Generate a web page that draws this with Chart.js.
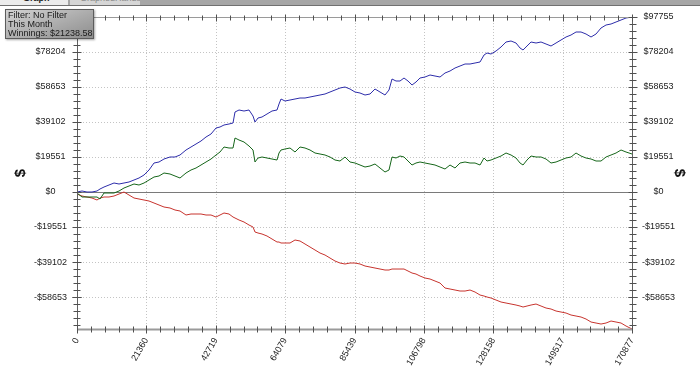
<!DOCTYPE html>
<html>
<head>
<meta charset="utf-8">
<script src="https://cdn.jsdelivr.net/npm/chart.js@4.4.0/dist/chart.umd.min.js"></script>
<style>
  html, body { margin: 0; padding: 0; background: #fff; }
  #wrap { position: relative; width: 700px; height: 374px; overflow: hidden; }
  #tabs { position: absolute; left: 0; top: 0; width: 700px; height: 5px; background: #a6a6a6;
          border-bottom: 1px solid #707070; overflow: hidden; z-index: 3; }
  .tab { position: absolute; top: 0; height: 5px; overflow: hidden; }
  .tab span { position: absolute; top: -7px; font: 9px 'Liberation Sans', sans-serif; line-height: 11px; }
  #info { position: absolute; left: 5px; top: 9px; width: 85px; height: 27px; padding: 1px 0 0 2px;
          background: linear-gradient(160deg, #d2d2d2 0%, #a8a8a8 60%, #8e8e8e 100%);
          border: 1px solid #5c5c5c; box-shadow: 1px 1px 2px rgba(0,0,0,0.35);
          font: 9px 'Liberation Sans', sans-serif; line-height: 9px; color: #1a1a1a; z-index: 2; }
</style>
</head>
<body>
<div id="wrap">
  <div id="tabs">
    <div class="tab" style="left:0;width:68px;background:#ececec;"><span style="left:23px;font-weight:bold;color:#222;">Graph</span></div>
    <div class="tab" style="left:70px;width:70px;background:#d6d6d6;"><span style="left:10px;color:#8a8a8a;">GraphedHands</span></div>
  </div>
  <div id="info">Filter: No Filter<br>This Month<br>Winnings: $21238.58</div>
  <canvas id="chartGraph" width="700" height="374"></canvas>
</div>
<script>
// hands played (x) and cumulative winnings in $ (y)
const hands = [
  0, 1540, 3079, 4619, 6158,
  7082, 8313, 9853, 11392, 12932,
  14471, 16011, 17550, 19090, 20629,
  22169, 23708, 25248, 26787, 28635,
  30174, 31714, 33561, 35101, 36640,
  38180, 39719, 41259, 42798, 44030,
  45261, 46801, 48032, 48648, 49880,
  51419, 52959, 54190, 54806, 55730,
  56962, 58501, 60041, 61580, 62196,
  62812, 64043, 65583, 67122, 68662,
  70201, 71741, 73280, 74820, 76359,
  77899, 79438, 80978, 82517, 84057,
  85596, 87136, 88675, 90215, 91754,
  93294, 94833, 96065, 96989, 98220,
  99452, 100683, 101915, 103147, 104378,
  105610, 107149, 108689, 110228, 111768,
  113307, 114847, 116386, 117926, 119465,
  121005, 122544, 124084, 125315, 126239,
  127471, 129010, 130550, 132089, 133629,
  135168, 136400, 137323, 138555, 139787,
  141326, 142866, 144405, 145945, 147484,
  149024, 150563, 152103, 153642, 155182,
  156721, 158261, 159800, 161340, 162879,
  164419, 165958, 167498, 169037, 170877
];

// blue: showdown winnings
const showdownWon = [
  0, 559, 0, 0, 559,
  1676, 2793, 3910, 5027, 4469,
  5027, 5586, 6703, 7820, 9496,
  12289, 16199, 16758, 18434, 19551,
  19551, 20668, 23461, 25137, 26813,
  28489, 30723, 32399, 35750, 36309,
  37426, 37985, 38543, 44688, 45805,
  45247, 45805, 42454, 39102, 41336,
  41895, 43571, 45247, 45805, 49157,
  51950, 50833, 51391, 51950, 52508,
  52508, 53067, 53626, 54184, 54743,
  55860, 56977, 58094, 58653, 57536,
  55860, 55301, 54184, 54743, 57536,
  55860, 54184, 56977, 63122, 62005,
  62005, 63680, 62005, 59770, 61446,
  63680, 64239, 65356, 64798, 64239,
  66473, 67591, 69266, 70384, 71501,
  71501, 72059, 72618, 76528, 77645,
  77087, 78763, 80997, 83790, 84349,
  83231, 80438, 79321, 81556, 83790,
  83231, 83790, 82673, 81556, 83231,
  84907, 86583, 87700, 89376, 89376,
  88259, 86583, 88259, 91610, 93286,
  93845, 94962, 96079, 97196, 97755
];

// green: net won
const netWon = [
  -559, -2793, -2793, -2793, -2793,
  -3910, -559, -559, -559, 559,
  2234, 3352, 4469, 3910, 5027,
  6703, 8379, 8938, 10613, 10055,
  8938, 7820, 10613, 12289, 13406,
  15082, 16758, 18434, 20668, 22344,
  25137, 24578, 24578, 30164, 29047,
  27930, 25696, 23461, 16758, 18992,
  19551, 18992, 18434, 17875, 21785,
  23461, 24020, 24578, 22344, 25137,
  24578, 23461, 21785, 21227, 20668,
  19551, 17875, 17317, 19551, 16758,
  16199, 15082, 13965, 14524, 15641,
  13406, 11172, 12289, 19551, 18992,
  20110, 19551, 17317, 15082, 16199,
  16758, 16199, 15641, 15082, 13965,
  12848, 15082, 13406, 16199, 16758,
  16199, 16199, 15082, 18992, 17317,
  17875, 18992, 20110, 21785, 20668,
  18992, 16199, 15082, 17875, 20110,
  19551, 19551, 18434, 16199, 16758,
  17875, 18992, 19551, 21785, 20110,
  18992, 18434, 17317, 17317, 19551,
  20668, 21785, 23461, 22344, 21238.58
];

// red: non-showdown winnings
const nonShowdownWon = [
  -1117, -2234, -2793, -3352, -4469,
  -3352, -2793, -2793, -2234, -1117,
  0, -1676, -3352, -3910, -4469,
  -5027, -6145, -7262, -8379, -8938,
  -10055, -10613, -12848, -12289, -12289,
  -12289, -12848, -12848, -13965, -12848,
  -11731, -12289, -13965, -14524, -15641,
  -16758, -18434, -19551, -22344, -22903,
  -23461, -24578, -26254, -27930, -27930,
  -28489, -28489, -28489, -26813, -27371,
  -29047, -30723, -32399, -34075, -35192,
  -36868, -38543, -39661, -40219, -39661,
  -39661, -40219, -41336, -41895, -42454,
  -43012, -43571, -43571, -43012, -43012,
  -43012, -43012, -44129, -45247, -45805,
  -46922, -48040, -48598, -49715, -50833,
  -53626, -54184, -54743, -55301, -55301,
  -54743, -55860, -57536, -58094, -58653,
  -59212, -60329, -61446, -62005, -62563,
  -63122, -63680, -64239, -63680, -63122,
  -62563, -63680, -64798, -65356, -66473,
  -67032, -67591, -68708, -69266, -69825,
  -70942, -72618, -73177, -73735, -73177,
  -72059, -72618, -73177, -74852, -76517
];

const xTicks = [0, 21360, 42719, 64079, 85439, 106798, 128158, 149517, 170877];
const yTicks = [-58653, -39102, -19551, 0, 19551, 39102, 58653, 78204, 97755];
const yMin = -76517, yMax = 97755;

const money = v => (v < 0 ? '-$' + (-v) : '$' + v);
const points = vals => hands.map((h, i) => ({ x: h, y: vals[i] }));

Chart.defaults.font.family = "'Liberation Sans', Arial, sans-serif";
Chart.defaults.color = '#222';

// dotted grid, zero line, frame with major/minor "+" ticks
const frame = {
  id: 'frame',
  beforeDatasetsDraw(chart) {
    const { ctx, chartArea: a, scales: { x, y } } = chart;
    ctx.save();
    ctx.lineWidth = 1;
    ctx.strokeStyle = '#c4c4c4';
    ctx.setLineDash([1, 2]);
    ctx.beginPath();
    xTicks.forEach(v => {
      const p = Math.round(x.getPixelForValue(v)) + 0.5;
      ctx.moveTo(p, a.top); ctx.lineTo(p, a.bottom);
    });
    yTicks.forEach(v => {
      const p = Math.round(y.getPixelForValue(v)) + 0.5;
      ctx.moveTo(a.left, p); ctx.lineTo(a.right, p);
    });
    ctx.stroke();
    ctx.setLineDash([]);
    const z = Math.round(y.getPixelForValue(0)) + 0.5;
    ctx.strokeStyle = '#7a7a7a';
    ctx.beginPath(); ctx.moveTo(a.left, z); ctx.lineTo(a.right, z); ctx.stroke();
    ctx.restore();
  },
  afterDatasetsDraw(chart) {
    const { ctx, chartArea: a, scales: { x, y } } = chart;
    const L = Math.round(a.left) + 0.5, R = Math.round(a.right) + 0.5;
    const T = Math.round(a.top) + 0.5, B = Math.round(a.bottom) + 0.5;
    ctx.save();
    ctx.lineWidth = 1;
    // top + bottom
    ctx.strokeStyle = '#9a9a9a';
    ctx.beginPath(); ctx.moveTo(L, T); ctx.lineTo(R, T); ctx.stroke();
    ctx.lineWidth = 2;
    ctx.beginPath(); ctx.moveTo(L, B); ctx.lineTo(R, B); ctx.stroke();
    ctx.lineWidth = 1;
    ctx.strokeStyle = '#606060';
    ctx.beginPath(); ctx.moveTo(L, T); ctx.lineTo(L, B); ctx.moveTo(R, T); ctx.lineTo(R, B); ctx.stroke();

    const xStep = (xTicks[xTicks.length - 1] - xTicks[0]) / (xTicks.length - 1) / 5;
    const yStep = (yTicks[1] - yTicks[0]) / 5;
    ctx.strokeStyle = '#505050';
    ctx.beginPath();
    for (let i = 0; i <= (xTicks.length - 1) * 5; i++) {
      const p = Math.round(x.getPixelForValue(i * xStep)) + 0.5;
      const len = i % 5 === 0 ? 4 : 3;
      ctx.moveTo(p, B - len); ctx.lineTo(p, B + len);
      ctx.moveTo(p, T - len + 1); ctx.lineTo(p, T + len);
    }
    const yVals = [];
    for (let v = yTicks[0]; v >= yMin; v -= yStep) yVals.push([v, yVals.length]);
    let k = 0;
    for (let v = yTicks[0]; v <= yMax + 1; v += yStep) yVals.push([v, k++]);
    yVals.forEach(([v, i]) => {
      const p = Math.round(y.getPixelForValue(v)) + 0.5;
      const len = i % 5 === 0 ? 4 : 3;
      ctx.moveTo(L - len - 1, p); ctx.lineTo(L + len, p);
      ctx.moveTo(R - len, p); ctx.lineTo(R + len + 1, p);
    });
    ctx.stroke();
    ctx.restore();
  }
};

const yAxis = (position, width) => ({
  type: 'linear',
  position: position,
  min: yMin,
  max: yMax,
  grid: { display: false, drawTicks: false },
  border: { display: false },
  afterBuildTicks: s => { s.ticks = yTicks.map(v => ({ value: v })); },
  afterFit: s => { s.width = width; },
  ticks: { crossAlign: 'center', padding: 10, font: { size: 9 }, callback: v => money(v) },
  title: { display: true, text: '$', font: { size: 15, weight: 'bold' }, color: '#111', padding: { top: 12, bottom: 0 } }
});

new Chart(document.getElementById('chartGraph'), {
  type: 'line',
  data: {
    datasets: [{
      label: 'Showdown',
      data: points(showdownWon),
      borderColor: '#2d2daa'
    }, {
      label: 'Net won',
      data: points(netWon),
      borderColor: '#16661a'
    }, {
      label: 'Non-showdown',
      data: points(nonShowdownWon),
      borderColor: '#c7342e'
    }]
  },
  options: {
    responsive: false,
    animation: false,
    layout: { padding: { top: 17 } },
    plugins: { legend: { display: false }, tooltip: { enabled: false } },
    elements: { point: { radius: 0 }, line: { borderWidth: 1, tension: 0 } },
    scales: {
      x: {
        type: 'linear',
        min: 0,
        max: 170877,
        grid: { display: false, drawTicks: false },
        border: { display: false },
        afterBuildTicks: s => { s.ticks = xTicks.map(v => ({ value: v })); },
        afterFit: s => { s.height = 45; },
        ticks: { minRotation: 60, maxRotation: 60, padding: 7, font: { size: 9 }, callback: v => String(v) }
      },
      y: yAxis('left', 77),
      y2: yAxis('right', 68)
    }
  },
  plugins: [frame]
});
</script>
</body>
</html>
